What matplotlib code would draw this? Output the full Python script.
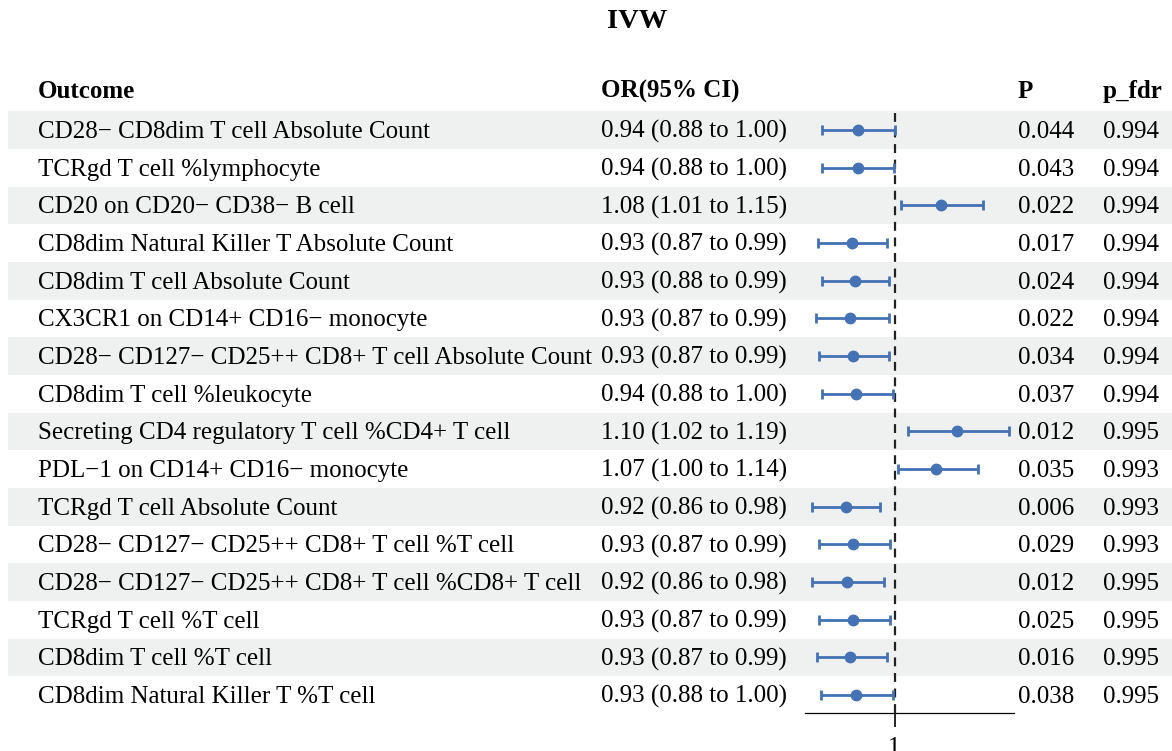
import numpy as np
import matplotlib.pyplot as plt

plt.rcParams["font.family"] = ["Liberation Serif", "DejaVu Serif"]

# ---- data ----
outcomes = [
    "CD28\u2212 CD8dim T cell Absolute Count",
    "TCRgd T cell %lymphocyte",
    "CD20 on CD20\u2212 CD38\u2212 B cell",
    "CD8dim Natural Killer T Absolute Count",
    "CD8dim T cell Absolute Count",
    "CX3CR1 on CD14+ CD16\u2212 monocyte",
    "CD28\u2212 CD127\u2212 CD25++ CD8+ T cell Absolute Count",
    "CD8dim T cell %leukocyte",
    "Secreting CD4 regulatory T cell %CD4+ T cell",
    "PDL\u22121 on CD14+ CD16\u2212 monocyte",
    "TCRgd T cell Absolute Count",
    "CD28\u2212 CD127\u2212 CD25++ CD8+ T cell %T cell",
    "CD28\u2212 CD127\u2212 CD25++ CD8+ T cell %CD8+ T cell",
    "TCRgd T cell %T cell",
    "CD8dim T cell %T cell",
    "CD8dim Natural Killer T %T cell",
]
or_text = [
    "0.94 (0.88 to 1.00)", "0.94 (0.88 to 1.00)", "1.08 (1.01 to 1.15)",
    "0.93 (0.87 to 0.99)", "0.93 (0.88 to 0.99)", "0.93 (0.87 to 0.99)",
    "0.93 (0.87 to 0.99)", "0.94 (0.88 to 1.00)", "1.10 (1.02 to 1.19)",
    "1.07 (1.00 to 1.14)", "0.92 (0.86 to 0.98)", "0.93 (0.87 to 0.99)",
    "0.92 (0.86 to 0.98)", "0.93 (0.87 to 0.99)", "0.93 (0.87 to 0.99)",
    "0.93 (0.88 to 1.00)",
]
p_text = ["0.044", "0.043", "0.022", "0.017", "0.024", "0.022", "0.034", "0.037",
          "0.012", "0.035", "0.006", "0.029", "0.012", "0.025", "0.016", "0.038"]
fdr_text = ["0.994", "0.994", "0.994", "0.994", "0.994", "0.994", "0.994", "0.994",
            "0.995", "0.993", "0.993", "0.993", "0.995", "0.995", "0.995", "0.995"]

or_est = [0.938, 0.938, 1.078, 0.928, 0.933, 0.926, 0.931, 0.936,
          1.104, 1.070, 0.918, 0.931, 0.920, 0.930, 0.926, 0.935]
ci_low = [0.879, 0.879, 1.011, 0.872, 0.879, 0.868, 0.874, 0.879,
          1.022, 1.005, 0.862, 0.874, 0.862, 0.873, 0.870, 0.877]
ci_high = [1.000, 0.999, 1.148, 0.987, 0.991, 0.990, 0.990, 0.997,
           1.192, 1.140, 0.975, 0.993, 0.983, 0.992, 0.987, 0.998]

# ---- layout (pixels) ----
W, H = 1172, 751
row_h = 37.67
y_first = 130
fs = 18
blue = "#4472b4"
stripe = "#eef1f0"

n = len(outcomes)
rows = np.arange(n)
y_px = y_first + rows * row_h

fig = plt.figure(figsize=(W / 100, H / 100), dpi=100)

bg = fig.add_axes([0, 0, 1, 1])
bg.set_xlim(0, W)
bg.set_ylim(H, 0)
bg.axis("off")

# zebra stripes
for i in range(0, n, 2):
    bg.barh(y_px[i], W - 8, left=8, height=row_h, color=stripe, zorder=0)

bg.text(637, 22, "IVW", fontsize=20.5, fontweight="bold", ha="center", va="center")
hy = 90 + 8
bg.text(38, hy, "Outcome", fontsize=fs, fontweight="bold", va="baseline")
bg.text(601, hy, "OR(95% CI)", fontsize=fs, fontweight="bold", va="baseline")
bg.text(1018, hy, "P", fontsize=fs, fontweight="bold", va="baseline")
bg.text(1103, hy, "p_fdr", fontsize=fs, fontweight="bold", va="baseline")

for i in range(n):
    yb = y_px[i] + 8
    bg.text(38, yb, outcomes[i], fontsize=fs, va="baseline")
    bg.text(601, yb, or_text[i], fontsize=fs, va="baseline")
    bg.text(1018, yb, p_text[i], fontsize=fs, va="baseline")
    bg.text(1103, yb, fdr_text[i], fontsize=fs, va="baseline")

# ---- forest panel ----
ax_left, ax_right = 805, 1014
ax_top, ax_bot = y_first - row_h / 2, 713
ax = fig.add_axes([ax_left / W, (H - ax_bot) / H,
                   (ax_right - ax_left) / W, (ax_bot - ax_top) / H])
ax.patch.set_alpha(0)
ax.set_xlim(0.85, 1.20)
ax.set_ylim((ax_bot - y_first) / row_h, -0.5)

or_est = np.array(or_est)
err = [or_est - np.array(ci_low), np.array(ci_high) - or_est]
ax.errorbar(or_est, rows, xerr=err, fmt="o", color=blue, ms=7.5,
            elinewidth=2.0, capsize=3.4, capthick=2.0, zorder=3)

ax.axvline(1, color="#222222", lw=1.6, ls=(0, (4, 3)), zorder=2)

for s in ["top", "right", "left"]:
    ax.spines[s].set_visible(False)
ax.spines["bottom"].set_linewidth(0.9)
ax.set_yticks([])
ax.set_xticks([1])
ax.set_xticklabels(["1"])
ax.tick_params(axis="x", length=10, width=1.2, pad=7, labelsize=fs)

fig.savefig("out.png", dpi=100)
